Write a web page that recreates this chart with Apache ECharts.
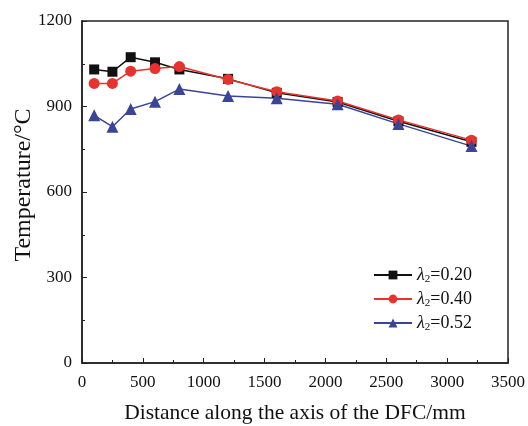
<!DOCTYPE html>
<html>
<head>
<meta charset="utf-8">
<script src="https://cdn.jsdelivr.net/npm/echarts@6/dist/echarts.min.js"></script>
<style>
  html, body { margin: 0; padding: 0; background: #fff; }
  #chart { width: 528px; height: 426px; }
</style>
</head>
<body>
<div id="chart"></div>
<script>
// distance along the DFC axis (mm)
const distance = [100, 250, 400, 600, 800, 1200, 1600, 2100, 2600, 3200];
// temperature (°C) for each lambda2
const temp020 = [1030, 1022, 1073, 1055, 1030, 997, 948, 916, 848, 776];
const temp040 = [981, 981, 1024, 1033, 1040, 995, 952, 919, 853, 782];
const temp052 = [869, 829, 891, 917, 961, 937, 929, 908, 839, 761];
const seriesNames = ['0.20', '0.40', '0.52'];

const font = 'Liberation Serif';
const pair = arr => distance.map((d, i) => [d, arr[i]]);

const chart = echarts.init(document.getElementById('chart'));

function line(name, data, color, symbol, size) {
  return {
    name: name,
    type: 'line',
    data: pair(data),
    symbol: symbol,
    symbolSize: size,
    lineStyle: { color: color, width: 1.5 },
    itemStyle: { color: color },
    animation: false
  };
}

chart.setOption({
  backgroundColor: '#fff',
  grid: {
    left: 82, right: 20, top: 21, bottom: 63,
    outerBoundsMode: 'none',
    containLabel: false,
    show: true, borderColor: '#222', borderWidth: 1.5
  },
  legend: {
    orient: 'vertical',
    left: 368, top: 261,
    itemWidth: 38, itemHeight: 11,
    itemGap: 5,
    data: seriesNames,
    formatter: name => '{i|λ}{s|2}{t|=' + name + '}',
    textStyle: {
      rich: {
        i: { fontFamily: font, fontStyle: 'italic', fontSize: 18, color: '#111' },
        s: { fontFamily: font, fontSize: 11, color: '#111', verticalAlign: 'bottom', padding: [9, 0, 0, 0] },
        t: { fontFamily: font, fontSize: 18, color: '#111' }
      }
    }
  },
  xAxis: {
    type: 'value',
    min: 0, max: 3500, interval: 500,
    name: 'Distance along the axis of the DFC/mm',
    nameLocation: 'middle',
    nameGap: 39,
    nameMoveOverlap: false,
    nameTextStyle: { fontFamily: font, fontSize: 21.5, color: '#111' },
    axisLine: { lineStyle: { color: '#222', width: 1.5 } },
    axisTick: { inside: true, length: 5, lineStyle: { color: '#222' } },
    minorTick: { show: true, splitNumber: 2, length: 3, lineStyle: { color: '#222' } },
    axisLabel: { fontFamily: font, fontSize: 17, color: '#111', margin: 11, formatter: v => String(v) },
    splitLine: { show: false }
  },
  yAxis: {
    type: 'value',
    min: 0, max: 1200, interval: 300,
    name: 'Temperature/°C',
    nameLocation: 'middle',
    nameGap: 46,
    nameMoveOverlap: false,
    nameTextStyle: { fontFamily: font, fontSize: 24, color: '#111', padding: [0, 0, 0, 14] },
    axisLine: { show: true, lineStyle: { color: '#222', width: 1.5 } },
    axisTick: { show: true, inside: true, length: 5, lineStyle: { color: '#222' } },
    minorTick: { show: true, splitNumber: 2, length: 3, lineStyle: { color: '#222' } },
    axisLabel: { fontFamily: font, fontSize: 17, color: '#111', margin: 10, formatter: v => String(v) },
    splitLine: { show: false }
  },
  series: [
    line(seriesNames[0], temp020, '#111111', 'rect', 10),
    line(seriesNames[1], temp040, '#e8322e', 'circle', 11),
    line(seriesNames[2], temp052, '#3a4597', 'triangle', 12)
  ]
});
</script>
</body>
</html>
